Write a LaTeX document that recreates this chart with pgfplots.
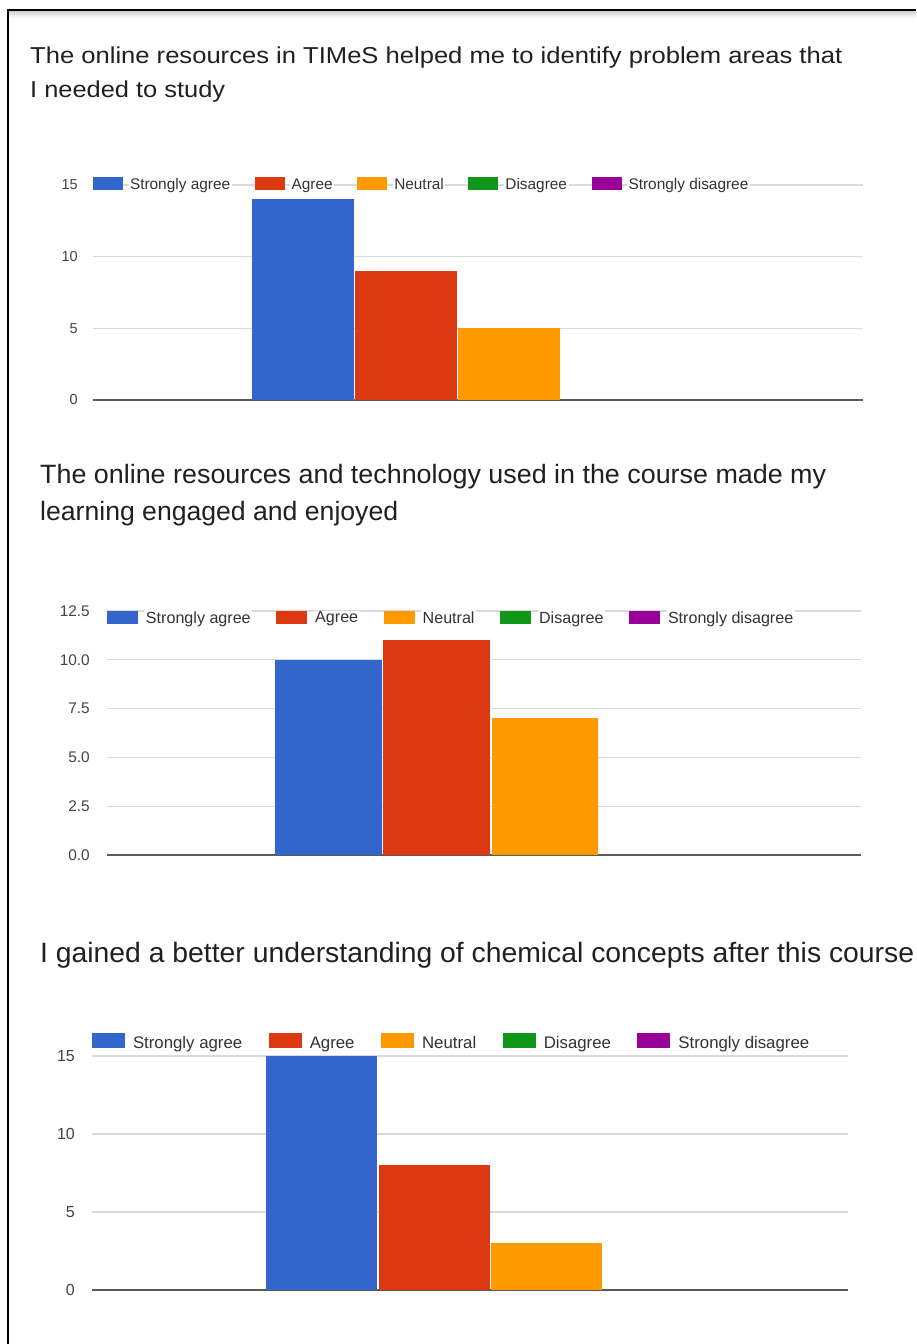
\documentclass[border=0pt]{standalone}
\usepackage{fontspec}
\setmainfont{Liberation Sans}
\usepackage{graphicx}
\usepackage{pgfplots}
\pgfplotsset{compat=1.18}
\definecolor{gblue}{HTML}{3366CC}
\definecolor{gred}{HTML}{DC3912}
\definecolor{gorange}{HTML}{FF9900}
\definecolor{ggreen}{HTML}{109618}
\definecolor{gpurple}{HTML}{990099}
\definecolor{gridc}{HTML}{DADADA}
\definecolor{basec}{HTML}{5A5A5A}
\definecolor{tickc}{HTML}{444444}
\definecolor{legc}{HTML}{333333}
\definecolor{titc}{HTML}{202020}

\pgfplotsset{
 gf/.style={
  scale only axis,
  ybar,
  axis line style={draw=none},
  major tick length=0pt,
  xtick=\empty,
  ymajorgrids,
  grid style={draw=gridc, line width=1.2pt},
  extra y ticks={0},
  extra y tick style={grid style={draw=basec, line width=1.8pt}},
  /pgf/number format/assume math mode=true,
  yticklabel style={text=tickc, inner xsep=0pt, anchor=east},
  legend columns=5,
  legend cell align=left,
  legend style={draw=none, fill=none, inner sep=0pt, outer sep=0pt, anchor=west, text=legc,
     nodes={fill=white, inner ysep=1pt, inner xsep=1.5pt}},
  clip=false,
 },
 gbar/.style={fill=#1, draw=none, bar shift=0pt,
   legend image code/.code={\fill[#1] (0pt,\legb) rectangle (\legw,\legt);}},
}

\begin{document}
\begin{tikzpicture}
\useasboundingbox (0pt,0pt) rectangle (916pt,-1344pt);
\fill[white] (0pt,0pt) rectangle (916pt,-1344pt);
% frame
\shade[top color=black!18, bottom color=white] (9pt,-11pt) rectangle (916pt,-18pt);
\draw[line width=2.5pt] (8pt,-1344pt) -- (8pt,-10pt) -- (916pt,-10pt);

% ---------- Panel 1 ----------
\node[anchor=base west, inner sep=0pt, text=titc] at (30pt,-63pt)
  {\resizebox{812pt}{\height}{\fontsize{23}{27}\selectfont The online resources in TIMeS helped me to identify problem areas that}};
\node[anchor=base west, inner sep=0pt, text=titc] at (30pt,-97pt)
  {\resizebox{195pt}{\height}{\fontsize{23}{27}\selectfont I needed to study}};

\def\legw{30pt}\def\legb{-5.5pt}\def\legt{7.5pt}
\begin{axis}[gf,
  at={(93pt,-400pt)}, anchor=south west,
  width=770pt, height=215pt,
  xmin=93, xmax=863, ymin=0, ymax=15,
  ytick={5,10,15},
  yticklabel style={font=\fontsize{14.5}{16}\selectfont, xshift=-15pt},
  legend style={at={(0,1)}, yshift=0.5pt, font=\fontsize{15.4}{17}\selectfont,
     /tikz/every odd column/.append style={column sep=5.5pt},
     /tikz/every even column/.append style={column sep=23pt}},
]
\addplot[gbar=gblue, bar width=101.5] coordinates {(303,14)};
\addlegendentry{Strongly agree}
\addplot[gbar=gred, bar width=101.5] coordinates {(406,9)};
\addlegendentry{Agree}
\addplot[gbar=gorange, bar width=101.5] coordinates {(509,5)};
\addlegendentry{Neutral}
\addplot[gbar=ggreen, bar width=0.01] coordinates {(610,0)};
\addlegendentry{Disagree}
\addplot[gbar=gpurple, bar width=0.01] coordinates {(712,0)};
\addlegendentry{Strongly disagree}
\end{axis}

% ---------- Panel 2 ----------
\node[anchor=base west, inner sep=0pt, text=titc] at (40pt,-483pt)
  {\resizebox{786pt}{\height}{\fontsize{26.5}{30}\selectfont The online resources and technology used in the course made my}};
\node[anchor=base west, inner sep=0pt, text=titc] at (40pt,-520pt)
  {\resizebox{358pt}{\height}{\fontsize{26.5}{30}\selectfont learning engaged and enjoyed}};

\def\legw{31pt}\def\legb{-5.5pt}\def\legt{7.5pt}
\begin{axis}[gf,
  at={(107pt,-855pt)}, anchor=south west,
  width=754pt, height=244pt,
  xmin=107, xmax=861, ymin=0, ymax=12.5,
  ytick={2.5,5,7.5,10,12.5},
  yticklabel style={font=\fontsize{15.4}{17}\selectfont, xshift=-17pt,
     /pgf/number format/.cd, fixed, fixed zerofill, precision=1},
  legend style={at={(0,1)}, yshift=-7pt, font=\fontsize{16.1}{18}\selectfont,
     /tikz/every odd column/.append style={column sep=6.5pt},
     /tikz/every even column/.append style={column sep=24pt}},
]
\addplot[gbar=gblue, bar width=106.5] coordinates {(328.5,10)};
\addlegendentry{Strongly agree}
\addplot[gbar=gred, bar width=106.5] coordinates {(436.5,11)};
\addlegendentry{Agree}
\addplot[gbar=gorange, bar width=106.5] coordinates {(545,7)};
\addlegendentry{Neutral}
\addplot[gbar=ggreen, bar width=0.01] coordinates {(652.5,0)};
\addlegendentry{Disagree}
\addplot[gbar=gpurple, bar width=0.01] coordinates {(760,0)};
\addlegendentry{Strongly disagree}
\end{axis}

% ---------- Panel 3 ----------
\node[anchor=base west, inner sep=0pt, text=titc] at (40pt,-962pt)
  {\resizebox{874pt}{\height}{\fontsize{28}{32}\selectfont I gained a better understanding of chemical concepts after this course}};

\def\legw{33pt}\def\legb{-5pt}\def\legt{10pt}
\begin{axis}[gf,
  at={(92pt,-1290pt)}, anchor=south west,
  width=756pt, height=234pt,
  xmin=92, xmax=848, ymin=0, ymax=15,
  ytick={5,10,15},
  yticklabel style={font=\fontsize{16}{18}\selectfont, xshift=-17pt},
  legend style={at={(0,1)}, yshift=14pt, font=\fontsize{16.8}{19}\selectfont,
     /tikz/every odd column/.append style={column sep=6.5pt},
     /tikz/every even column/.append style={column sep=25pt}},
]
\addplot[gbar=gblue, bar width=110.5] coordinates {(321.5,15)};
\addlegendentry{Strongly agree}
\addplot[gbar=gred, bar width=110.5] coordinates {(434.5,8)};
\addlegendentry{Agree}
\addplot[gbar=gorange, bar width=110.5] coordinates {(546.5,3)};
\addlegendentry{Neutral}
\addplot[gbar=ggreen, bar width=0.01] coordinates {(658,0)};
\addlegendentry{Disagree}
\addplot[gbar=gpurple, bar width=0.01] coordinates {(770,0)};
\addlegendentry{Strongly disagree}
\end{axis}
\end{tikzpicture}
\end{document}
